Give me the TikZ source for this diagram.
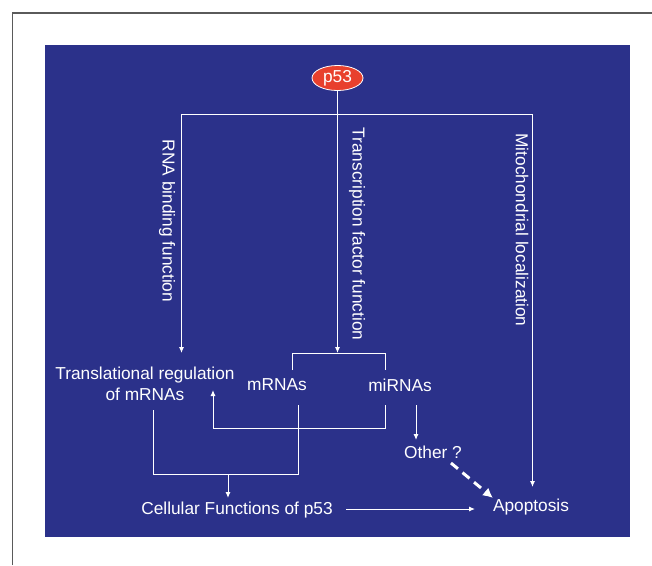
\documentclass[tikz,border=0pt]{standalone}
\usepackage{fontspec}
\setmainfont{Liberation Sans}
\usetikzlibrary{arrows.meta,shapes.geometric}
\definecolor{bgblue}{RGB}{43,49,138}
\definecolor{pred}{RGB}{232,64,45}
\definecolor{framegray}{RGB}{90,90,90}
\tikzset{
  lbl/.style={text=white,font=\fontsize{17.3}{21}\selectfont,inner sep=0pt,align=center},
  rlbl/.style={lbl,rotate=-90},
  wire/.style={draw=white,line width=1pt},
  arr/.style={wire,-{Latex[length=6pt,width=5pt]}},
  dasharr/.style={draw=white,line width=3pt,dash pattern=on 9pt off 6pt,-{Latex[length=10pt,width=10pt]}},
}
\begin{document}
\begin{tikzpicture}[x=1pt,y=-1pt]
\useasboundingbox (0,0) rectangle (652,565);
% outer frame
\draw[framegray,line width=1.5pt] (12.5,565) -- (12.5,13) -- (652,13);
% blue panel
\fill[bgblue] (45,45) rectangle (630,537);
% p53
\node[ellipse,draw=white,line width=0.8pt,fill=pred,minimum width=51pt,minimum height=25pt,inner sep=0pt,
  text=white,font=\fontsize{17.3}{21}\selectfont] (p53) at (337.5,78) {p53};
% junctions
\coordinate (jL) at (181.5,114);
\coordinate (jM) at (337.5,114);
\coordinate (jR) at (532.5,114);
\draw[wire] (p53.south) -- (jM);
\draw[wire] (jL) -- (jR);
% rotated labels
\node[rlbl] (rna) at (167,221) {RNA binding function};
\node[rlbl] (tf) at (357,234) {Transcription factor function};
\node[rlbl] (mito) at (522,230) {Mitochondrial localization};
% text nodes
\node[lbl] (trans) at (145,384) {Translational regulation\\of mRNAs};
\node[lbl] (mrna) at (277,385) {mRNAs};
\node[lbl] (mirna) at (400,385) {miRNAs};
\node[lbl] (other) at (433,452) {Other ?};
\node[lbl] (cell) at (237,510) {Cellular Functions of p53};
\node[lbl] (apop) at (531,507) {Apoptosis};
% end coordinates
\coordinate (tL) at (181.5,353);
\coordinate (tM) at (337.5,353);
\coordinate (tR) at (532.5,487);
\coordinate (bl) at (292,370);
\coordinate (br) at (385,370);
\draw[arr] (jL) -- (tL);
\draw[arr] (jM) -- (tM);
\draw[arr] (jR) -- (tR);
% bracket over mRNAs / miRNAs
\draw[wire] (bl) -- (292,353) -- (385,353) -- (br);
% miRNAs -> translational regulation
\coordinate (mi1) at (385,405);
\coordinate (tr1) at (213,390);
\draw[wire,-{Latex[length=6pt,width=5pt]}] (mi1) -- (385,428) -- (213,428) -- (tr1);
% mRNAs and translational -> cellular
\coordinate (m1) at (298,405);
\coordinate (t1) at (153,410);
\draw[wire] (m1) -- (298,474) -- (153,474) -- (t1);
\coordinate (c0) at (228,474);
\coordinate (c1) at (228,498);
\draw[arr] (c0) -- (c1);
% miRNAs -> other
\coordinate (mo0) at (416,405);
\coordinate (mo1) at (416,440);
\draw[arr] (mo0) -- (mo1);
% other -> apoptosis
\coordinate (oa0) at (451,463);
\coordinate (oa1) at (493,498);
\draw[dasharr] (oa0) -- (oa1);
% cellular -> apoptosis
\coordinate (ca0) at (346,509);
\coordinate (ca1) at (475,509);
\draw[arr] (ca0) -- (ca1);
\end{tikzpicture}
\end{document}
